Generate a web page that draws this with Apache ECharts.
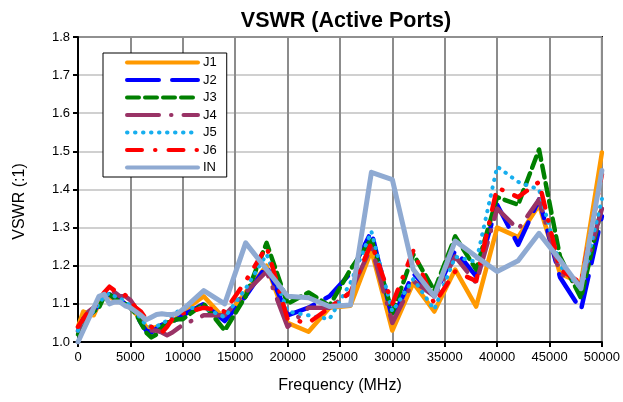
<!DOCTYPE html>
<html>
<head>
<meta charset="utf-8">
<script src="https://cdn.jsdelivr.net/npm/echarts@6/dist/echarts.min.js"></script>
<style>
  html, body { margin: 0; padding: 0; background: #fff; }
  #main { width: 623px; height: 402px; }
</style>
</head>
<body>
<div id="main"></div>
<script>
// frequency points (MHz)
var FREQ = [0, 500, 1000, 1500, 2000, 2500, 3000, 3500, 4000, 4500, 5000, 5500, 6000, 6500, 7000, 7500, 8000, 8500, 9000, 9500, 10000,
  12000, 14000, 16000, 18000, 20000, 22000, 24000, 26000, 28000, 30000, 32000, 34000, 36000, 38000, 40000, 42000, 44000, 46000, 48000, 50000];

var J1 = [1.04, 1.08, 1.075, 1.07, 1.10, 1.125, 1.12, 1.11, 1.11, 1.10, 1.09, 1.075, 1.06, 1.04, 1.035, 1.04, 1.045, 1.05, 1.055, 1.065, 1.08,
  1.12, 1.06, 1.13, 1.20, 1.05, 1.027, 1.09, 1.095, 1.24, 1.03, 1.155, 1.08, 1.19, 1.093, 1.30, 1.275, 1.36, 1.18, 1.154, 1.497];
var J2 = [1.03, 1.06, 1.07, 1.08, 1.10, 1.12, 1.125, 1.115, 1.11, 1.10, 1.09, 1.075, 1.05, 1.03, 1.025, 1.035, 1.045, 1.05, 1.055, 1.06, 1.07,
  1.10, 1.055, 1.12, 1.20, 1.07, 1.09, 1.12, 1.18, 1.29, 1.06, 1.18, 1.12, 1.24, 1.172, 1.36, 1.255, 1.374, 1.17, 1.084, 1.33];
var J3 = [1.02, 1.05, 1.07, 1.08, 1.09, 1.12, 1.125, 1.115, 1.105, 1.10, 1.09, 1.075, 1.05, 1.025, 1.012, 1.02, 1.04, 1.05, 1.055, 1.06, 1.06,
  1.10, 1.03, 1.12, 1.26, 1.10, 1.13, 1.095, 1.19, 1.27, 1.076, 1.23, 1.135, 1.277, 1.19, 1.38, 1.36, 1.505, 1.224, 1.115, 1.356];
var J4 = [1.03, 1.06, 1.08, 1.09, 1.10, 1.12, 1.135, 1.13, 1.12, 1.12, 1.11, 1.09, 1.07, 1.045, 1.03, 1.03, 1.025, 1.018, 1.025, 1.035, 1.045,
  1.07, 1.07, 1.13, 1.185, 1.04, 1.09, 1.09, 1.13, 1.25, 1.05, 1.16, 1.12, 1.224, 1.155, 1.35, 1.295, 1.374, 1.18, 1.15, 1.35];
var J5 = [1.03, 1.06, 1.07, 1.08, 1.10, 1.12, 1.128, 1.12, 1.115, 1.105, 1.095, 1.08, 1.06, 1.045, 1.04, 1.04, 1.05, 1.055, 1.065, 1.08, 1.088,
  1.09, 1.065, 1.14, 1.23, 1.08, 1.07, 1.06, 1.155, 1.29, 1.08, 1.165, 1.085, 1.224, 1.21, 1.46, 1.42, 1.40, 1.20, 1.14, 1.375];
var J6 = [1.04, 1.06, 1.08, 1.09, 1.11, 1.13, 1.145, 1.135, 1.125, 1.123, 1.11, 1.09, 1.08, 1.06, 1.04, 1.03, 1.025, 1.04, 1.06, 1.07, 1.075,
  1.09, 1.08, 1.16, 1.25, 1.06, 1.05, 1.09, 1.13, 1.26, 1.10, 1.24, 1.10, 1.185, 1.16, 1.405, 1.38, 1.42, 1.19, 1.155, 1.44];
var IN = [1.0, 1.03, 1.06, 1.09, 1.12, 1.125, 1.10, 1.105, 1.105, 1.095, 1.09, 1.08, 1.07, 1.058, 1.065, 1.072, 1.074, 1.072, 1.072, 1.075, 1.085,
  1.135, 1.10, 1.26, 1.19, 1.12, 1.116, 1.093, 1.097, 1.445, 1.426, 1.19, 1.12, 1.265, 1.224, 1.185, 1.213, 1.285, 1.215, 1.14, 1.45];

var NAMES = ['J1', 'J2', 'J3', 'J4', 'J5', 'J6', 'IN'];
var VALUES = [J1, J2, J3, J4, J5, J6, IN];
var COLORS = ['#FF9900', '#0000FF', '#008000', '#993366', '#17AEEE', '#FF0000', '#8FAAD2'];
var DASHES = ['solid', [32, 13], [12, 6], [32, 12, 0.5, 12], [0.5, 7.5], [15, 13, 0.5, 13], 'solid'];
var WIDTHS = [4.5, 4.5, 4.5, 4.5, 4, 4.5, 5];

var chart = echarts.init(document.getElementById('main'));

var series = NAMES.map(function (name, k) {
  return {
    name: name,
    type: 'line',
    symbol: 'none',
    data: FREQ.map(function (f, i) { return [f, VALUES[k][i]]; }),
    lineStyle: { color: COLORS[k], width: WIDTHS[k], type: DASHES[k], cap: 'round', join: 'round' },
    itemStyle: { color: COLORS[k] }
  };
});

var option = {
  animation: false,
  textStyle: { fontFamily: 'Liberation Sans, Arial, sans-serif' },
  title: {
    text: 'VSWR (Active Ports)',
    left: 341, top: 5, textAlign: 'center',
    textStyle: { fontSize: 21.5, fontWeight: 'bold', color: '#000' }
  },
  legend: {
    orient: 'vertical',
    left: 103, top: 53,
    padding: [3, 10, 3, 22],
    itemWidth: 71, itemHeight: 14, itemGap: 4.5,
    backgroundColor: '#fff',
    borderColor: '#000', borderWidth: 1,
    itemStyle: { opacity: 0 },
    lineStyle: { width: 4 },
    textStyle: { fontSize: 13, color: '#000' },
    data: NAMES
  },
  grid: {
    left: 78, right: 18, top: 37, bottom: 60,
    show: true, borderColor: '#000', borderWidth: 2
  },
  xAxis: {
    type: 'value',
    min: 0, max: 50000, interval: 5000,
    name: 'Frequency (MHz)', nameLocation: 'middle', nameGap: 36,
    nameTextStyle: { fontSize: 16, color: '#000' },
    axisLine: { lineStyle: { color: '#000', width: 2 } },
    axisTick: { show: true, inside: false, length: 5, lineStyle: { color: '#000', width: 2 } },
    axisLabel: { fontSize: 13, color: '#000', margin: 9, formatter: function (v) { return String(v); } },
    splitLine: { lineStyle: { color: '#8C8C8C', width: 2 } }
  },
  yAxis: {
    type: 'value',
    min: 1.0, max: 1.8, interval: 0.1,
    name: 'VSWR (:1)', nameLocation: 'middle', nameGap: 50,
    nameTextStyle: { fontSize: 16, color: '#000', padding: [0, 24, 0, 0] },
    axisLine: { show: true, lineStyle: { color: '#000', width: 2 } },
    axisTick: { show: true, inside: false, length: 5, lineStyle: { color: '#000', width: 2 } },
    axisLabel: { fontSize: 13, color: '#000', margin: 8, formatter: function (v) { return v.toFixed(1); } },
    splitLine: { lineStyle: { color: '#C0C0C0', width: 1.5 } }
  },
  series: series
};

chart.setOption(option);
</script>
</body>
</html>
